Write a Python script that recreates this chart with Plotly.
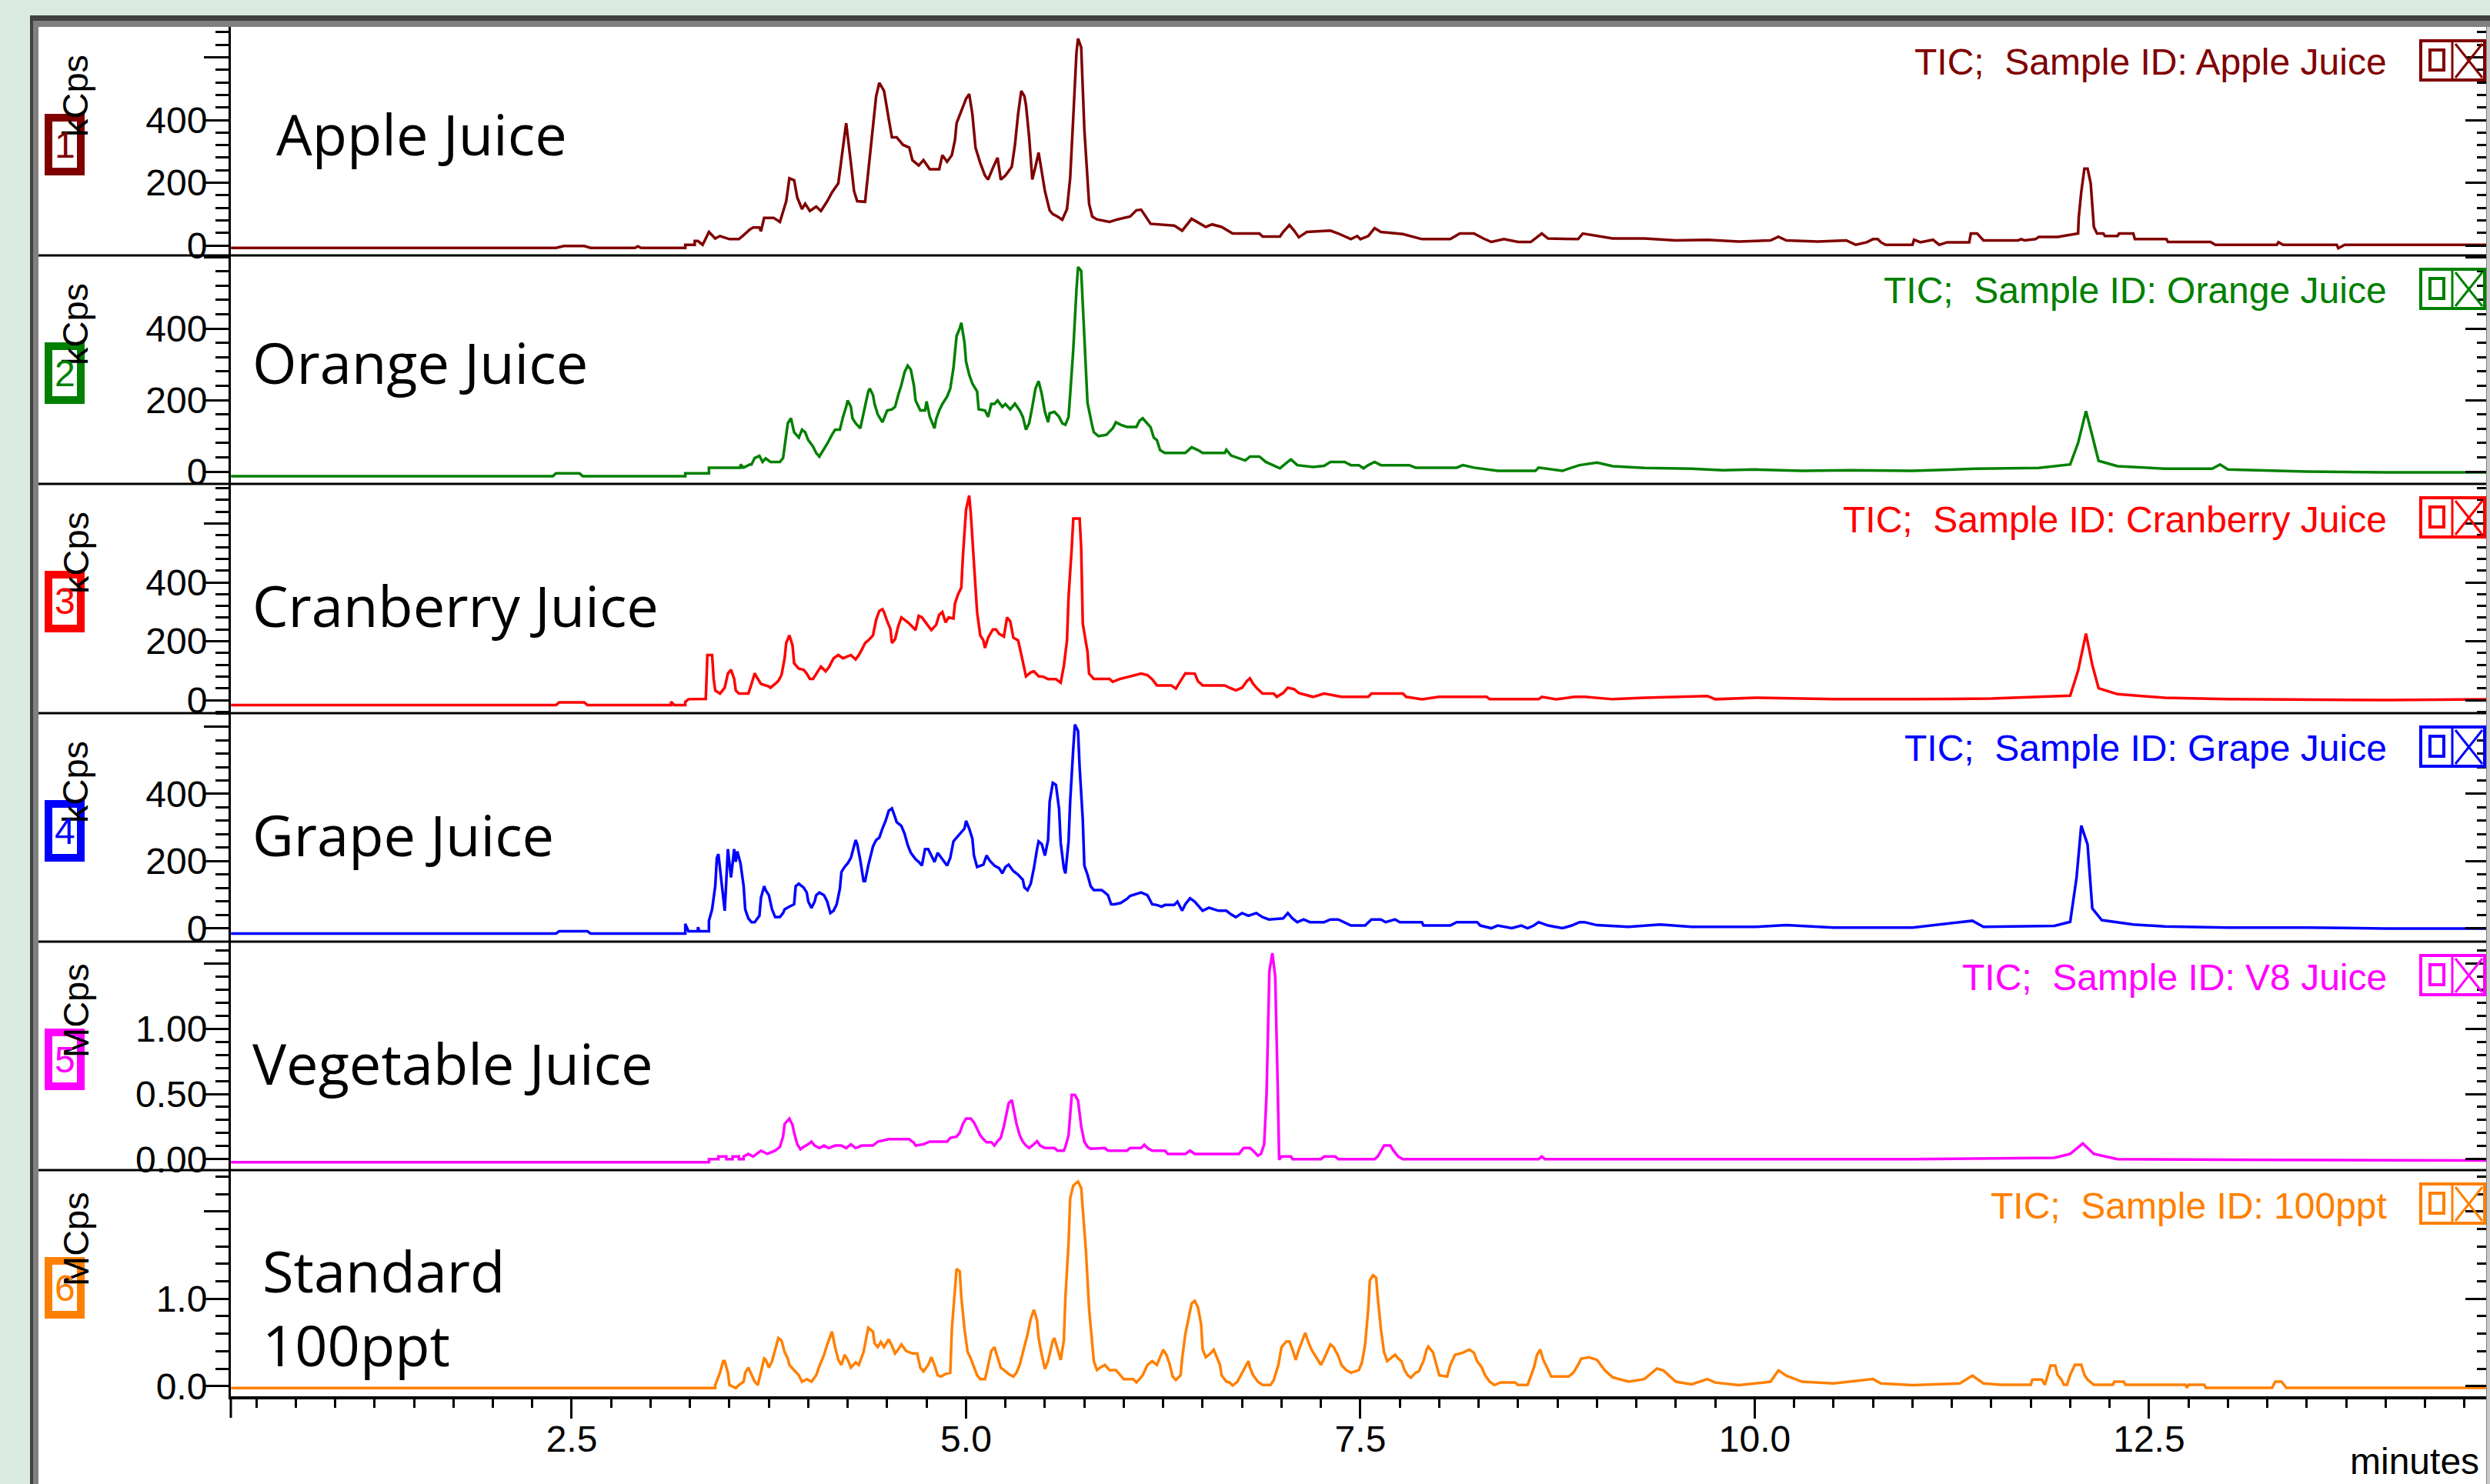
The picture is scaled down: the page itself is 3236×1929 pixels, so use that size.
import plotly.graph_objects as go

W, H = 3236, 1929

# ---------------- data (retention time in minutes, intensity) ----------------
APPLE = [(0.34,-8),(2.40,-8),(2.45,-2),(2.58,-2),(2.62,-8),(2.90,-8),(2.92,-3),(2.94,-8),(3.07,-8),
 (3.22,-8),(3.22,2),(3.28,2),(3.28,14),(3.30,14),(3.33,2),(3.37,43),(3.41,22),(3.44,30),(3.50,20),(3.56,20),
 (3.59,33),(3.63,51),(3.65,57),(3.69,57),(3.70,45),(3.72,88),(3.78,88),(3.82,75),(3.84,108),(3.86,141),
 (3.88,214),(3.91,208),(3.93,153),(3.96,116),(3.98,133),(4.01,110),(4.05,124),(4.08,110),(4.12,141),(4.15,169),
 (4.19,198),(4.21,280),(4.24,390),(4.27,263),(4.29,173),(4.31,141),(4.36,139),(4.38,235),(4.41,382),(4.43,476),
 (4.45,519),(4.48,493),(4.51,403),(4.53,345),(4.56,345),(4.60,321),(4.64,312),(4.66,272),(4.70,255),(4.73,272),
 (4.77,243),(4.83,243),(4.85,288),(4.88,267),(4.91,288),(4.93,337),(4.94,390),(4.97,427),(5.00,468),(5.02,483),
 (5.04,419),(5.06,312),(5.09,263),(5.12,223),(5.14,210),(5.17,247),(5.20,280),(5.22,210),(5.25,223),(5.29,251),
 (5.31,321),(5.33,419),(5.35,493),(5.37,476),(5.38,448),(5.40,345),(5.42,210),(5.44,251),(5.46,296),(5.48,235),
 (5.50,173),(5.53,112),(5.55,100),(5.58,92),(5.61,82),(5.64,116),(5.66,214),(5.68,411),(5.70,615),(5.71,660),
 (5.73,632),(5.75,370),(5.77,214),(5.78,133),(5.80,92),(5.83,83),(5.91,75),(5.96,83),(6.04,92),(6.08,112),
 (6.11,114),(6.14,92),(6.17,69),(6.32,63),(6.37,47),(6.43,85),(6.48,71),(6.52,59),(6.56,67),(6.62,59),
 (6.69,38),(6.86,38),(6.88,28),(6.99,28),(7.01,43),(7.05,65),(7.08,47),(7.11,26),(7.16,43),(7.31,47),
 (7.36,38),(7.44,20),(7.48,30),(7.50,20),(7.55,30),(7.59,55),(7.63,43),(7.77,36),(7.89,20),(8.07,20),
 (8.13,38),(8.22,38),(8.28,22),(8.33,11),(8.41,20),(8.50,11),(8.58,11),(8.65,38),(8.69,22),(8.88,20),
 (8.91,38),(9.00,30),(9.10,22),(9.30,22),(9.50,16),(9.70,18),(9.90,12),(10.10,16),(10.15,28),(10.20,16),
 (10.40,12),(10.58,16),(10.64,2),(10.71,10),(10.75,20),(10.78,20),(10.80,10),(10.83,2),(11.00,2),(11.01,18),
 (11.05,10),(11.13,18),(11.17,2),(11.22,10),(11.36,10),(11.37,38),(11.41,38),(11.45,16),(11.67,16),(11.69,20),
 (11.71,16),(11.78,20),(11.80,27),(11.92,27),(12.05,38),(12.054,88),(12.07,170),(12.09,245),(12.11,245),
 (12.13,198),(12.14,113),(12.15,59),(12.17,38),(12.21,38),(12.22,30),(12.30,30),(12.31,38),(12.40,38),
 (12.41,20),(12.61,20),(12.62,11),(12.89,11),(12.92,2),(13.31,2),(13.32,10),(13.35,2),(13.69,2),(13.70,-9),
 (13.74,2),(14.64,2)]

ORANGE = [(0.34,-13),(2.38,-13),(2.40,-5),(2.55,-5),(2.57,-13),(3.07,-13),(3.22,-13),(3.22,-5),(3.37,-5),
 (3.37,11),(3.57,11),(3.57,20),(3.59,11),(3.63,20),(3.64,20),(3.66,38),(3.69,44),(3.71,27),(3.73,37),(3.76,27),
 (3.82,27),(3.84,38),(3.85,70),(3.87,135),(3.89,149),(3.91,110),(3.94,95),(3.96,117),(3.98,110),(4.00,88),
 (4.03,70),(4.05,52),(4.07,42),(4.10,63),(4.12,78),(4.15,103),(4.17,117),(4.20,117),(4.22,153),(4.24,181),
 (4.25,199),(4.27,181),(4.28,149),(4.30,135),(4.33,121),(4.34,142),(4.36,181),(4.38,224),(4.39,232),(4.41,214),
 (4.42,189),(4.44,160),(4.47,138),(4.50,171),(4.53,174),(4.55,181),(4.57,214),(4.59,242),(4.61,278),(4.63,296),
 (4.65,285),(4.67,239),(4.68,199),(4.71,171),(4.74,171),(4.75,196),(4.77,153),(4.80,121),(4.81,146),(4.83,171),
 (4.85,189),(4.88,210),(4.90,232),(4.92,289),(4.94,379),(4.96,400),(4.97,416),(4.99,361),(5.00,307),(5.02,271),
 (5.04,246),(5.07,224),(5.08,174),(5.12,171),(5.14,153),(5.16,189),(5.18,189),(5.20,199),(5.23,181),(5.25,189),
 (5.28,174),(5.31,190),(5.34,171),(5.36,153),(5.38,117),(5.40,135),(5.42,181),(5.44,232),(5.46,253),(5.48,217),
 (5.50,167),(5.52,138),(5.53,163),(5.56,167),(5.59,153),(5.61,135),(5.63,131),(5.65,153),(5.66,214),(5.68,343),
 (5.70,508),(5.71,572),(5.73,561),(5.74,468),(5.76,310),(5.77,192),(5.80,128),(5.81,110),(5.84,99),(5.89,103),
 (5.93,121),(5.95,138),(5.98,131),(6.02,125),(6.08,125),(6.10,142),(6.12,149),(6.15,135),(6.17,124),(6.19,95),
 (6.21,88),(6.23,60),(6.26,52),(6.39,52),(6.43,68),(6.47,60),(6.50,52),(6.64,52),(6.65,61),(6.68,45),
 (6.77,31),(6.80,42),(6.86,42),(6.90,27),(6.95,16),(6.99,9),(7.03,24),(7.06,34),(7.10,18),(7.20,13),
 (7.27,16),(7.31,27),(7.40,27),(7.44,18),(7.49,18),(7.52,9),(7.55,18),(7.59,27),(7.63,18),(7.81,18),
 (7.85,11),(8.11,11),(8.15,18),(8.22,11),(8.37,2),(8.61,2),(8.63,11),(8.78,2),(8.84,11),(8.89,18),
 (9.00,25),(9.10,15),(9.30,10),(9.60,8),(9.80,4),(10.00,6),(10.30,2),(10.60,4),(11.00,2),(11.40,8),
 (11.80,10),(12.00,20),(12.05,80),(12.10,169),(12.14,100),(12.18,30),(12.30,15),(12.60,8),(12.90,8),
 (12.95,20),(13.00,6),(13.50,0),(14.00,-2),(14.64,-2)]

CRANBERRY = [(0.34,-17),(2.40,-17),(2.42,-8),(2.58,-8),(2.60,-17),(3.07,-17),(3.13,-17),(3.13,-6),(3.15,-17),
 (3.22,-17),(3.22,-6),(3.24,3),(3.35,4),(3.36,153),(3.39,153),(3.40,72),(3.41,33),(3.44,22),(3.47,42),(3.49,90),
 (3.51,103),(3.53,72),(3.54,33),(3.56,22),(3.62,22),(3.64,55),(3.66,91),(3.67,81),(3.70,55),(3.75,46),
 (3.76,42),(3.79,55),(3.81,65),(3.83,85),(3.85,142),(3.86,194),(3.88,220),(3.90,186),(3.91,125),(3.94,107),
 (3.97,103),(3.99,90),(4.01,72),(4.03,72),(4.05,90),(4.08,114),(4.11,98),(4.13,111),(4.16,142),(4.19,153),
 (4.22,142),(4.27,153),(4.30,138),(4.32,153),(4.34,172),(4.36,194),(4.38,203),(4.41,220),(4.43,273),(4.45,303),
 (4.47,309),(4.48,299),(4.50,268),(4.52,242),(4.53,194),(4.55,207),(4.57,251),(4.59,281),(4.61,273),(4.64,260),
 (4.68,238),(4.70,286),(4.72,281),(4.75,260),(4.78,238),(4.81,255),(4.83,290),(4.85,299),(4.87,264),(4.89,281),
 (4.92,277),(4.93,329),(4.95,360),(4.97,382),(4.98,488),(5.00,647),(5.02,695),(5.03,634),(5.05,478),(5.07,299),
 (5.09,220),(5.11,203),(5.12,177),(5.14,212),(5.17,240),(5.19,240),(5.21,225),(5.24,216),(5.26,281),(5.28,268),
 (5.30,212),(5.33,203),(5.35,155),(5.37,103),(5.38,81),(5.41,94),(5.43,98),(5.46,81),(5.49,79),(5.52,71),
 (5.57,71),(5.60,59),(5.62,116),(5.64,203),(5.65,351),(5.67,517),(5.68,617),(5.72,617),(5.73,517),(5.74,260),
 (5.77,164),(5.78,90),(5.81,72),(5.91,72),(5.93,62),(5.97,71),(6.04,81),(6.11,90),(6.15,85),(6.18,71),
 (6.21,50),(6.30,50),(6.33,39),(6.36,64),(6.39,91),(6.45,90),(6.47,64),(6.50,50),(6.64,50),(6.67,42),
 (6.71,33),(6.75,42),(6.78,64),(6.80,74),(6.82,55),(6.85,37),(6.88,22),(6.95,22),(6.97,11),(7.01,24),
 (7.04,42),(7.08,37),(7.11,24),(7.20,11),(7.27,22),(7.38,11),(7.55,11),(7.57,22),(7.77,22),(7.79,11),
 (7.89,3),(8.00,11),(8.30,11),(8.32,3),(8.63,3),(8.65,11),(8.74,3),(8.86,11),(8.92,11),(9.10,3),
 (9.30,8),(9.70,14),(9.75,3),(10.00,8),(10.50,3),(11.00,3),(11.50,5),(12.00,15),(12.05,100),(12.10,226),
 (12.14,120),(12.18,40),(12.30,20),(12.60,8),(13.00,3),(14.00,0),(14.50,3),(14.64,3)]

GRAPE = [(0.34,-15),(2.40,-15),(2.42,-8),(2.60,-8),(2.62,-15),(3.07,-15),(3.22,-15),(3.22,14),(3.24,-8),
 (3.30,-8),(3.30,4),(3.31,-8),(3.37,-8),(3.37,23),(3.39,57),(3.41,126),(3.42,210),(3.43,221),(3.45,141),
 (3.47,53),(3.48,141),(3.49,236),(3.51,152),(3.53,236),(3.54,198),(3.55,229),(3.57,194),(3.59,126),(3.60,57),
 (3.62,30),(3.64,19),(3.66,19),(3.69,38),(3.70,91),(3.72,126),(3.73,114),(3.75,99),(3.77,57),(3.79,34),
 (3.82,34),(3.84,46),(3.85,57),(3.88,65),(3.91,72),(3.92,126),(3.94,133),(3.97,122),(3.99,107),(4.00,80),
 (4.02,61),(4.04,80),(4.05,99),(4.07,107),(4.10,99),(4.12,80),(4.14,46),(4.16,53),(4.18,72),(4.20,118),
 (4.21,168),(4.23,183),(4.25,194),(4.27,210),(4.30,263),(4.31,251),(4.33,202),(4.35,141),(4.36,141),(4.38,187),
 (4.40,221),(4.41,244),(4.43,263),(4.45,270),(4.47,297),(4.49,320),(4.51,350),(4.53,357),(4.55,331),(4.56,316),
 (4.59,305),(4.61,282),(4.63,248),(4.65,225),(4.68,206),(4.70,198),(4.72,187),(4.74,236),(4.76,236),(4.78,217),
 (4.80,198),(4.82,225),(4.84,213),(4.86,198),(4.88,187),(4.90,210),(4.92,259),(4.94,270),(4.97,286),(4.99,297),
 (5.00,320),(5.02,297),(5.04,267),(5.05,217),(5.07,183),(5.11,190),(5.13,217),(5.15,202),(5.18,187),(5.21,179),
 (5.23,164),(5.25,183),(5.27,190),(5.30,171),(5.33,160),(5.36,145),(5.37,122),(5.39,114),(5.41,133),(5.43,179),
 (5.45,236),(5.46,259),(5.48,251),(5.50,217),(5.52,263),(5.53,377),(5.55,433),(5.57,427),(5.59,354),(5.60,255),
 (5.62,179),(5.63,164),(5.65,259),(5.66,377),(5.68,537),(5.69,606),(5.71,587),(5.72,480),(5.74,324),(5.75,187),
 (5.77,160),(5.79,126),(5.81,114),(5.86,114),(5.88,107),(5.90,99),(5.92,72),(5.94,72),(5.98,76),(6.02,88),
 (6.04,97),(6.08,103),(6.11,107),(6.15,99),(6.18,72),(6.21,70),(6.24,65),(6.26,70),(6.32,70),(6.34,80),
 (6.36,61),(6.37,53),(6.39,72),(6.42,90),(6.45,80),(6.48,65),(6.50,53),(6.54,62),(6.60,53),(6.65,53),
 (6.68,42),(6.71,34),(6.75,46),(6.79,38),(6.84,46),(6.88,34),(6.92,27),(7.01,30),(7.04,46),(7.07,30),
 (7.10,19),(7.14,27),(7.18,19),(7.27,19),(7.31,27),(7.36,27),(7.40,19),(7.44,9),(7.53,9),(7.57,27),
 (7.63,27),(7.66,19),(7.72,27),(7.75,19),(7.89,19),(7.90,9),(8.07,9),(8.11,19),(8.24,19),(8.26,9),
 (8.33,1),(8.37,9),(8.46,1),(8.52,9),(8.56,1),(8.60,9),(8.63,19),(8.69,9),(8.78,1),(8.84,9),(8.89,19),
 (8.92,19),(9.00,10),(9.20,5),(9.40,12),(9.60,5),(10.00,5),(10.20,10),(10.50,3),(11.00,3),(11.38,23),
 (11.45,5),(11.90,8),(12.00,20),(12.04,150),(12.07,306),(12.11,250),(12.14,60),(12.20,25),(12.40,12),
 (12.60,6),(13.00,3),(13.50,3),(14.00,0),(14.64,0)]

VEGETABLE = [(0.34,-0.024),(3.07,-0.024),(3.37,-0.024),(3.37,0.0),(3.43,0.0),(3.43,0.02),(3.48,0.02),(3.48,0.0),
 (3.52,0.0),(3.52,0.02),(3.56,0.02),(3.56,0.0),(3.59,0.0),(3.59,0.02),(3.62,0.04),(3.65,0.02),(3.67,0.04),
 (3.70,0.065),(3.74,0.04),(3.79,0.065),(3.82,0.094),(3.84,0.173),(3.85,0.27),(3.88,0.311),(3.90,0.262),
 (3.91,0.203),(3.93,0.114),(3.95,0.075),(3.97,0.094),(4.00,0.114),(4.02,0.134),(4.04,0.104),(4.07,0.085),
 (4.10,0.104),(4.13,0.085),(4.17,0.104),(4.21,0.104),(4.24,0.085),(4.27,0.114),(4.30,0.085),(4.34,0.104),
 (4.41,0.104),(4.44,0.134),(4.51,0.153),(4.64,0.153),(4.67,0.124),(4.68,0.104),(4.73,0.114),(4.77,0.134),
 (4.88,0.134),(4.90,0.163),(4.94,0.173),(4.96,0.203),(4.98,0.27),(5.00,0.311),(5.03,0.311),(5.05,0.282),
 (5.07,0.232),(5.09,0.183),(5.11,0.153),(5.13,0.13),(5.16,0.13),(5.18,0.104),(5.20,0.138),(5.22,0.163),
 (5.24,0.252),(5.26,0.38),(5.27,0.429),(5.29,0.453),(5.30,0.39),(5.32,0.27),(5.34,0.183),(5.36,0.134),
 (5.38,0.104),(5.40,0.085),(5.43,0.114),(5.45,0.138),(5.47,0.104),(5.50,0.085),(5.56,0.085),(5.58,0.065),
 (5.62,0.065),(5.63,0.094),(5.65,0.183),(5.66,0.34),(5.67,0.492),(5.69,0.492),(5.71,0.449),(5.73,0.252),
 (5.75,0.134),(5.77,0.094),(5.79,0.079),(5.88,0.085),(5.90,0.065),(6.02,0.065),(6.04,0.085),(6.11,0.085),
 (6.13,0.11),(6.15,0.085),(6.18,0.065),(6.26,0.065),(6.28,0.04),(6.39,0.04),(6.42,0.065),(6.45,0.04),
 (6.73,0.04),(6.76,0.085),(6.80,0.085),(6.82,0.065),(6.85,0.026),(6.87,0.04),(6.89,0.114),(6.905,0.492),
 (6.923,1.443),(6.942,1.58),(6.960,1.403),(6.975,0.606),(6.985,-0.004),(7.00,0.02),(7.06,0.02),(7.07,0.0),
 (7.25,0.0),(7.27,0.02),(7.34,0.02),(7.36,0.0),(7.59,0.0),(7.61,0.02),(7.63,0.065),(7.65,0.104),(7.69,0.104),
 (7.71,0.065),(7.74,0.02),(7.77,0.0),(8.63,0.0),(8.65,0.02),(8.67,0.0),(9.50,0.0),(10.00,0.0),(11.00,0.0),
 (11.90,0.01),(12.00,0.04),(12.08,0.12),(12.15,0.04),(12.30,0.0),(13.00,-0.005),(14.64,-0.01)]

STANDARD = [(0.34,-0.023),(3.07,-0.023),(3.41,-0.023),(3.41,0.012),(3.44,0.153),(3.46,0.286),(3.47,0.286),
 (3.49,0.153),(3.50,0.012),(3.54,-0.023),(3.56,0.012),(3.59,0.05),(3.60,0.153),(3.62,0.212),(3.64,0.124),
 (3.66,0.05),(3.68,0.012),(3.70,0.153),(3.72,0.315),(3.73,0.3),(3.75,0.212),(3.77,0.286),(3.79,0.418),
 (3.81,0.55),(3.83,0.521),(3.85,0.389),(3.87,0.315),(3.88,0.242),(3.91,0.183),(3.94,0.124),(3.96,0.05),
 (3.99,0.08),(4.02,0.05),(4.05,0.124),(4.07,0.227),(4.10,0.359),(4.12,0.477),(4.14,0.58),(4.15,0.624),
 (4.17,0.447),(4.19,0.3),(4.21,0.242),(4.23,0.359),(4.25,0.3),(4.27,0.212),(4.30,0.271),(4.32,0.242),
 (4.35,0.389),(4.37,0.58),(4.38,0.668),(4.41,0.624),(4.42,0.491),(4.44,0.447),(4.46,0.506),(4.48,0.447),
 (4.51,0.535),(4.53,0.462),(4.55,0.374),(4.57,0.418),(4.59,0.477),(4.62,0.403),(4.66,0.374),(4.69,0.374),
 (4.71,0.212),(4.73,0.168),(4.76,0.242),(4.78,0.33),(4.80,0.242),(4.82,0.124),(4.84,0.109),(4.87,0.139),
 (4.90,0.153),(4.91,0.653),(4.93,1.123),(4.94,1.344),(4.96,1.314),(4.97,1.02),(4.99,0.653),(5.01,0.389),
 (5.03,0.315),(5.05,0.212),(5.07,0.124),(5.09,0.08),(5.12,0.08),(5.13,0.153),(5.15,0.33),(5.16,0.403),
 (5.18,0.447),(5.20,0.33),(5.22,0.212),(5.24,0.183),(5.27,0.139),(5.30,0.109),(5.32,0.153),(5.34,0.242),
 (5.36,0.374),(5.37,0.447),(5.39,0.594),(5.41,0.77),(5.43,0.874),(5.45,0.756),(5.46,0.55),(5.48,0.359),
 (5.50,0.197),(5.52,0.286),(5.53,0.359),(5.55,0.521),(5.56,0.55),(5.58,0.418),(5.60,0.3),(5.62,0.521),
 (5.63,1.02),(5.65,1.638),(5.66,2.152),(5.68,2.299),(5.71,2.343),(5.73,2.27),(5.74,2.049),(5.76,1.55),
 (5.78,0.888),(5.80,0.521),(5.81,0.286),(5.83,0.183),(5.85,0.212),(5.88,0.242),(5.91,0.183),(5.95,0.183),
 (5.97,0.139),(6.00,0.08),(6.06,0.08),(6.08,0.042),(6.10,0.08),(6.12,0.124),(6.15,0.242),(6.18,0.286),
 (6.21,0.242),(6.23,0.33),(6.25,0.418),(6.27,0.359),(6.29,0.256),(6.31,0.109),(6.33,0.071),(6.36,0.124),
 (6.37,0.315),(6.39,0.594),(6.41,0.785),(6.43,0.947),(6.45,0.976),(6.47,0.903),(6.49,0.712),(6.50,0.418),
 (6.52,0.33),(6.55,0.374),(6.57,0.418),(6.59,0.33),(6.61,0.242),(6.62,0.124),(6.65,0.05),(6.67,0.042),
 (6.69,0.006),(6.72,0.05),(6.75,0.153),(6.77,0.212),(6.79,0.286),(6.80,0.212),(6.82,0.124),(6.85,0.05),
 (6.88,0.012),(6.93,0.012),(6.95,0.065),(6.98,0.242),(7.00,0.447),(7.03,0.512),(7.05,0.512),(7.07,0.418),
 (7.09,0.3),(7.11,0.418),(7.13,0.521),(7.15,0.609),(7.17,0.506),(7.19,0.418),(7.21,0.359),(7.23,0.3),
 (7.25,0.242),(7.27,0.315),(7.29,0.389),(7.31,0.477),(7.33,0.447),(7.36,0.344),(7.38,0.242),(7.41,0.183),
 (7.44,0.153),(7.49,0.183),(7.51,0.271),(7.53,0.477),(7.55,0.888),(7.56,1.211),(7.58,1.27),(7.60,1.241),
 (7.61,1.02),(7.63,0.653),(7.65,0.389),(7.67,0.286),(7.69,0.315),(7.72,0.359),(7.74,0.315),(7.76,0.286),
 (7.78,0.183),(7.80,0.124),(7.82,0.095),(7.85,0.153),(7.87,0.168),(7.90,0.286),(7.92,0.418),(7.93,0.453),
 (7.96,0.389),(7.98,0.242),(8.00,0.124),(8.05,0.109),(8.07,0.242),(8.10,0.359),(8.15,0.382),(8.19,0.418),
 (8.22,0.382),(8.24,0.286),(8.27,0.212),(8.29,0.124),(8.32,0.05),(8.35,0.012),(8.39,0.042),(8.48,0.042),
 (8.50,0.012),(8.56,0.012),(8.58,0.124),(8.60,0.212),(8.62,0.359),(8.64,0.418),(8.66,0.3),(8.69,0.183),
 (8.71,0.109),(8.82,0.109),(8.85,0.153),(8.88,0.242),(8.90,0.315),(8.95,0.33),(9.00,0.30),(9.05,0.18),
 (9.10,0.10),(9.20,0.05),(9.30,0.08),(9.38,0.20),(9.42,0.18),(9.50,0.05),(9.60,0.02),(9.70,0.08),(9.75,0.04),
 (9.90,0.01),(10.10,0.05),(10.15,0.18),(10.20,0.12),(10.30,0.05),(10.50,0.03),(10.75,0.08),(10.80,0.03),
 (11.00,0.01),(11.30,0.03),(11.38,0.12),(11.45,0.03),(11.56,0.015),(11.75,0.015),(11.76,0.074),(11.82,0.074),
 (11.84,0.015),(11.86,0.13),(11.875,0.235),(11.905,0.235),(11.92,0.13),(11.944,0.074),(11.96,0.015),
 (11.98,0.015),(12.00,0.13),(12.03,0.244),(12.07,0.244),(12.09,0.13),(12.11,0.074),(12.15,0.015),(12.27,0.015),
 (12.28,0.05),(12.34,0.05),(12.35,0.015),(12.73,0.015),(12.74,-0.02),(12.75,0.015),(12.85,0.015),(12.86,-0.02),
 (13.28,-0.02),(13.30,0.05),(13.34,0.05),(13.37,-0.02),(14.64,-0.02)]

SERIES = [APPLE, ORANGE, CRANBERRY, GRAPE, VEGETABLE, STANDARD]
PANEL_LABELS = ["Apple Juice", "Orange Juice", "Cranberry Juice", "Grape Juice",
                "Vegetable Juice", "Standard<br>100ppt"]
SAMPLE_IDS = ["Apple Juice", "Orange Juice", "Cranberry Juice", "Grape Juice", "V8 Juice", "100ppt"]
UNITS = ["kCps", "kCps", "kCps", "kCps", "MCps", "MCps"]
COLORS = ["#800000", "#008000", "#FF0000", "#0000FF", "#FF00FF", "#FF8000"]
Y_TICKVALS = [[0, 200, 400, 600]] * 4 + [[0, 0.5, 1.0, 1.5], [0, 1, 2]]
Y_TICKTEXT = [["0", "200", "400", ""]] * 4 + [["0.00", "0.50", "1.00", ""], ["0.0", "1.0", ""]]
Y_MINOR = [40, 40, 40, 40, 0.1, 0.2]
Y_RANGES = [[-31.9, 697], [-34.4, 604.3], [-44.4, 734.6], [-38.9, 640],
            [-0.0844, 1.6688], [-0.1173, 2.4753]]
X_RANGE = [0.339, 14.637]
X_TICKVALS = [2.5, 5.0, 7.5, 10.0, 12.5]
X_TICKTEXT = ["2.5", "5.0", "7.5", "10.0", "12.5"]

# ---------------- geometry (pixels) ----------------
PANEL_TOP = [35, 332, 629, 927, 1224, 1521]
PANEL_BOT = [332, 629, 927, 1224, 1521, 1815]
XL, XR = 300, 3231
LABEL_X = [357, 326, 326, 326, 326, 339]
LABEL_Y = [173, 471, 786, 1084, 1381, 1699]

SANS = "Liberation Sans, Arial, sans-serif"
BIG = "Open Sans, Noto Sans, sans-serif"


def px(x):
    return x / W


def py(y):
    return 1 - y / H


fig = go.Figure()
layout = dict(width=W, height=H, margin=dict(l=0, r=0, t=0, b=0, pad=0, autoexpand=False),
              paper_bgcolor="#DAEAE2", plot_bgcolor="rgba(0,0,0,0)", showlegend=False)

shapes = []
annotations = []

# frame
shapes.append(dict(type="rect", xref="paper", yref="paper", x0=px(39), x1=1, y0=0, y1=py(20),
                   fillcolor="#404040", line=dict(width=0), layer="below"))
shapes.append(dict(type="rect", xref="paper", yref="paper", x0=px(43), x1=1, y0=0, y1=py(27),
                   fillcolor="#808080", line=dict(width=0), layer="below"))
shapes.append(dict(type="rect", xref="paper", yref="paper", x0=px(50), x1=px(XR), y0=0, y1=py(35),
                   fillcolor="white", line=dict(width=0), layer="below"))
shapes.append(dict(type="rect", xref="paper", yref="paper", x0=px(XR + 1), x1=1, y0=0, y1=py(35),
                   fillcolor="#C8C8C8", line=dict(width=0), layer="below"))

for i in range(6):
    n = "" if i == 0 else str(i + 1)
    xa, ya = "x" + n, "y" + n
    t = [p[0] for p in SERIES[i]]
    v = [p[1] for p in SERIES[i]]
    fig.add_trace(go.Scatter(x=t, y=v, mode="lines", line=dict(color=COLORS[i], width=3.5),
                             xaxis=xa, yaxis=ya, hoverinfo="skip"))
    # empty companion trace for the right-hand tick axis
    fig.add_trace(go.Scatter(x=[], y=[], xaxis=xa, yaxis="y" + str(7 + i), hoverinfo="skip"))

    top, bot = PANEL_TOP[i], PANEL_BOT[i]
    xaxis = dict(domain=[px(XL), px(XR)], range=X_RANGE, anchor=ya, showgrid=False, zeroline=False,
                 fixedrange=True, automargin=False)
    if i == 5:
        xaxis.update(showline=True, linecolor="black", linewidth=4, ticks="outside", ticklen=25,
                     tickwidth=3, tickcolor="black", tickmode="array", tickvals=X_TICKVALS,
                     ticktext=X_TICKTEXT, tickfont=dict(family=SANS, size=48, color="black"),
                     ticklabelstandoff=-15,
                     minor=dict(tickmode="linear", tick0=0, dtick=0.25, ticks="outside", ticklen=11,
                                tickwidth=3, tickcolor="black", showgrid=False))
    else:
        xaxis.update(visible=False)
    layout["xaxis" + n] = xaxis

    layout["yaxis" + n] = dict(
        domain=[py(bot), py(top)], range=Y_RANGES[i], anchor=xa, showgrid=False, zeroline=False,
        showline=True, linecolor="black", linewidth=3, ticks="outside", ticklen=32, tickwidth=3,
        tickcolor="black", tickmode="array", tickvals=Y_TICKVALS[i], ticktext=Y_TICKTEXT[i],
        tickfont=dict(family=SANS, size=48, color="black"), ticklabelstandoff=-14, fixedrange=True,
        automargin=False,
        minor=dict(tickmode="linear", tick0=0, dtick=Y_MINOR[i], ticks="outside", ticklen=17,
                   tickwidth=3, tickcolor="black", showgrid=False))
    layout["yaxis" + str(7 + i)] = dict(
        overlaying=ya, side="right", anchor=xa, range=Y_RANGES[i], showgrid=False, zeroline=False,
        showline=False, ticks="inside", ticklen=27, tickwidth=3, tickcolor="black", tickmode="array",
        tickvals=Y_TICKVALS[i], showticklabels=False, fixedrange=True, automargin=False,
        minor=dict(tickmode="linear", tick0=0, dtick=Y_MINOR[i], ticks="inside", ticklen=12,
                   tickwidth=3, tickcolor="black", showgrid=False))

    # divider line under each upper panel
    if i < 5:
        shapes.append(dict(type="line", xref="paper", yref="paper", x0=px(50), x1=px(XR),
                           y0=py(bot), y1=py(bot), line=dict(color="black", width=3)))

    # panel label
    annotations.append(dict(xref="paper", yref="paper", x=px(LABEL_X[i]), y=py(LABEL_Y[i]),
                            xanchor="left", yanchor="middle", text=PANEL_LABELS[i], showarrow=False,
                            align="left", font=dict(family=BIG, size=74, color="black")))
    # TIC header
    annotations.append(dict(xref="paper", yref="paper", x=px(3104), y=py(top + 46),
                            xanchor="right", yanchor="middle", showarrow=False,
                            text="TIC;\u00a0 Sample ID: " + SAMPLE_IDS[i],
                            font=dict(family=SANS, size=48, color=COLORS[i])))
    # window icon at the right of the header
    c = COLORS[i]
    shapes.append(dict(type="rect", xref="paper", yref="paper", x0=px(3146), x1=px(3229),
                       y0=py(top + 69), y1=py(top + 18), line=dict(color=c, width=4)))
    shapes.append(dict(type="line", xref="paper", yref="paper", x0=px(3187), x1=px(3187),
                       y0=py(top + 69), y1=py(top + 18), line=dict(color=c, width=3)))
    shapes.append(dict(type="rect", xref="paper", yref="paper", x0=px(3158), x1=px(3176),
                       y0=py(top + 56), y1=py(top + 30), line=dict(color=c, width=4)))
    shapes.append(dict(type="line", xref="paper", yref="paper", x0=px(3191), x1=px(3226),
                       y0=py(top + 22), y1=py(top + 66), line=dict(color=c, width=3)))
    shapes.append(dict(type="line", xref="paper", yref="paper", x0=px(3191), x1=px(3226),
                       y0=py(top + 66), y1=py(top + 22), line=dict(color=c, width=3)))
    # rotated unit label and numbered box
    annotations.append(dict(xref="paper", yref="paper", x=px(98), y=py(top + 90), textangle=-90,
                            xanchor="center", yanchor="middle", showarrow=False, text=UNITS[i],
                            font=dict(family=SANS, size=47, color="black")))
    shapes.append(dict(type="rect", xref="paper", yref="paper", x0=px(63), x1=px(105),
                       y0=py(top + 188), y1=py(top + 118), line=dict(color=c, width=10)))
    annotations.append(dict(xref="paper", yref="paper", x=px(84), y=py(top + 153),
                            xanchor="center", yanchor="middle", showarrow=False, text=str(i + 1),
                            font=dict(family=SANS, size=48, color=c)))

# y axis extension below the time axis
shapes.append(dict(type="line", xref="paper", yref="paper", x0=px(XL), x1=px(XL), y0=py(1843),
                   y1=py(1815), line=dict(color="black", width=3)))

annotations.append(dict(xref="paper", yref="paper", x=px(3223), y=py(1927), xanchor="right",
                        yanchor="bottom", showarrow=False, text="minutes", borderpad=0,
                        font=dict(family=SANS, size=48, color="black")))

layout["shapes"] = shapes
layout["annotations"] = annotations
fig.update_layout(**layout)
fig.write_html("out.html")
